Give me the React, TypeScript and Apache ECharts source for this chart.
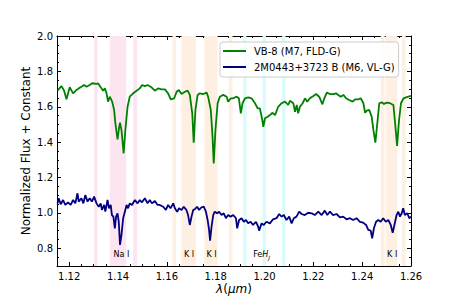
import React, { useEffect, useRef } from "react";
import * as echarts from "echarts";

const X_MIN = 1.115;
const X_MAX = 1.26;
const Y_MIN = 0.7;
const Y_MAX = 2.0;

const vb8Name = "VB-8 (M7, FLD-G)";
const m0443Name = "2M0443+3723 B (M6, VL-G)";

const vb8Wave = [
  1.1152, 1.1168, 1.1179, 1.1189, 1.1202, 1.1216, 1.123, 1.1239, 1.125, 1.1261,
  1.1271, 1.1284, 1.1294, 1.1312, 1.1318, 1.1329, 1.1339, 1.1346, 1.1353, 1.1359,
  1.1366, 1.1376, 1.1384, 1.1389, 1.1398, 1.1404, 1.1408, 1.1414, 1.1423, 1.143,
  1.1439, 1.1448, 1.1462, 1.1476, 1.1489, 1.1499, 1.151, 1.1521, 1.1537, 1.1551,
  1.1564, 1.1578, 1.1592, 1.1605, 1.1616, 1.163, 1.164, 1.1649, 1.166, 1.1674,
  1.1685, 1.1694, 1.1704, 1.171, 1.1717, 1.1726, 1.1735, 1.1749, 1.1763, 1.1769,
  1.178, 1.1787, 1.1792, 1.1799, 1.1808, 1.1817, 1.1831, 1.1845, 1.1851, 1.1862,
  1.1872, 1.1886, 1.1895, 1.1903, 1.191, 1.192, 1.1933, 1.1947, 1.1961, 1.1972,
  1.1981, 1.1991, 1.1995, 1.2002, 1.2013, 1.2022, 1.2033, 1.2043, 1.2056, 1.207,
  1.2084, 1.2097, 1.2104, 1.2118, 1.2125, 1.2132, 1.2138, 1.2145, 1.2156, 1.2166,
  1.2175, 1.2186, 1.22, 1.2211, 1.2224, 1.2237, 1.2245, 1.2255, 1.2268, 1.2282,
  1.2293, 1.2302, 1.2312, 1.2323, 1.2334, 1.2347, 1.2361, 1.2371, 1.2384, 1.2394,
  1.2405, 1.2412, 1.2419, 1.2429, 1.2439, 1.2446, 1.2454, 1.2462, 1.247, 1.248,
  1.2489, 1.2501, 1.2514, 1.2528, 1.2535, 1.2543, 1.2551, 1.2559, 1.2569, 1.258,
  1.2589, 1.26,
];
const vb8Flux = [
  1.691, 1.717, 1.691, 1.642, 1.71, 1.676, 1.695, 1.704, 1.713, 1.723,
  1.713, 1.723, 1.733, 1.729, 1.733, 1.71, 1.691, 1.704, 1.676, 1.629,
  1.657, 1.629, 1.582, 1.507, 1.416, 1.478, 1.51, 1.469, 1.337, 1.469,
  1.6, 1.657, 1.676, 1.691, 1.704, 1.723, 1.717, 1.723, 1.71, 1.691,
  1.704, 1.698, 1.698, 1.676, 1.642, 1.648, 1.685, 1.695, 1.672, 1.685,
  1.691, 1.667, 1.563, 1.397, 1.582, 1.667, 1.676, 1.672, 1.68, 1.657,
  1.582, 1.431, 1.28, 1.469, 1.62, 1.657, 1.667, 1.657, 1.629, 1.648,
  1.648, 1.657, 1.648, 1.563, 1.62, 1.648, 1.653, 1.648, 1.62, 1.591,
  1.591, 1.525, 1.487, 1.535, 1.544, 1.553, 1.566, 1.553, 1.6, 1.62,
  1.629, 1.61, 1.634, 1.62, 1.572, 1.61, 1.563, 1.6, 1.62, 1.648,
  1.629, 1.648, 1.661, 1.672, 1.657, 1.614, 1.648, 1.68, 1.672, 1.672,
  1.676, 1.667, 1.657, 1.667, 1.648, 1.638, 1.629, 1.642, 1.642, 1.648,
  1.62, 1.566, 1.578, 1.582, 1.544, 1.469, 1.397, 1.507, 1.62, 1.625,
  1.616, 1.623, 1.62, 1.61, 1.507, 1.378, 1.525, 1.62, 1.648, 1.653,
  1.657, 1.661,
];

const m0443Wave = [
  1.1152, 1.1157, 1.1165, 1.1175, 1.1184, 1.1195, 1.1206, 1.1216, 1.1225, 1.1234,
  1.1239, 1.125, 1.1258, 1.1266, 1.1275, 1.1284, 1.1293, 1.1302, 1.1312, 1.1321,
  1.1329, 1.1334, 1.1343, 1.1348, 1.1357, 1.1363, 1.137, 1.1375, 1.1381, 1.1387,
  1.1392, 1.1398, 1.1403, 1.1408, 1.1414, 1.1421, 1.1428, 1.1435, 1.1441, 1.1448,
  1.1457, 1.1469, 1.148, 1.1489, 1.1498, 1.151, 1.1521, 1.153, 1.1539, 1.1551,
  1.1562, 1.1571, 1.1585, 1.1596, 1.1605, 1.1615, 1.1626, 1.1633, 1.1642, 1.165,
  1.166, 1.1669, 1.168, 1.1687, 1.1694, 1.1701, 1.1708, 1.1715, 1.1724, 1.1732,
  1.1742, 1.1751, 1.176, 1.1767, 1.1773, 1.1777, 1.1783, 1.179, 1.1796, 1.1806,
  1.1814, 1.1824, 1.1833, 1.1842, 1.1851, 1.1861, 1.1872, 1.1883, 1.1888, 1.1896,
  1.1906, 1.1915, 1.1924, 1.1933, 1.1943, 1.1953, 1.1965, 1.1974, 1.1978, 1.1988,
  1.1997, 1.2008, 1.2022, 1.2035, 1.2049, 1.206, 1.207, 1.2079, 1.209, 1.2101,
  1.2111, 1.212, 1.2131, 1.2142, 1.2152, 1.2165, 1.2179, 1.2193, 1.2206, 1.222,
  1.2234, 1.2247, 1.2257, 1.2268, 1.2281, 1.2295, 1.2309, 1.2322, 1.2336, 1.235,
  1.2363, 1.2377, 1.2391, 1.2404, 1.2416, 1.2425, 1.2435, 1.2441, 1.2448, 1.2457,
  1.2466, 1.2476, 1.2486, 1.2497, 1.2507, 1.2517, 1.2525, 1.2532, 1.2541, 1.2548,
  1.2555, 1.2562, 1.2568, 1.2575, 1.2585, 1.2593, 1.26,
];
const m0443Flux = [
  1.054, 1.083, 1.049, 1.073, 1.045, 1.06, 1.045, 1.073, 1.054, 1.111,
  1.064, 1.083, 1.054, 1.101, 1.064, 1.083, 1.064, 1.092, 1.054, 1.035,
  1.054, 1.017, 1.045, 1.007, 1.073, 1.026, 1.045, 0.988, 0.979, 0.913,
  0.979, 0.998, 0.95, 0.819, 0.875, 0.97, 1.007, 1.045, 1.026, 1.054,
  1.045, 1.073, 1.054, 1.073, 1.06, 1.083, 1.054, 1.073, 1.054, 1.067,
  1.045, 1.045, 1.035, 1.017, 1.045, 1.026, 1.054, 1.026, 1.007, 1.026,
  1.017, 1.035, 1.017, 0.988, 0.932, 0.979, 1.017, 1.021, 1.035, 1.017,
  1.032, 1.035, 1.007, 0.96, 0.904, 0.843, 0.922, 0.988, 1.007, 0.998,
  1.007, 0.988, 0.998, 0.97, 0.988, 0.979, 0.988, 0.97, 0.913, 0.96,
  0.97, 0.95, 0.96, 0.941, 0.95, 0.932, 0.95, 0.922, 0.9, 0.941,
  0.932, 0.95, 0.941, 0.964, 0.97, 0.994, 0.979, 0.988, 0.96, 0.979,
  0.941, 0.97, 0.979, 1.007, 0.994, 0.988, 1.001, 0.998, 0.988, 1.007,
  0.988, 1.013, 0.988, 1.007, 0.988, 0.994, 0.975, 0.979, 0.964, 0.97,
  0.96, 0.97, 0.95, 0.945, 0.932, 0.904, 0.9, 0.857, 0.913, 0.95,
  0.96, 0.95, 0.97, 0.95, 0.96, 0.932, 0.888, 0.932, 0.988, 1.007,
  0.979, 0.998, 1.026, 0.988, 0.998, 0.97, 0.979,
];

const naSpans = [
  [1.1302, 1.1316],
  [1.1366, 1.1433],
  [1.1462, 1.1478],
];
const kSpans = [
  [1.1623, 1.1637],
  [1.166, 1.1719],
  [1.1753, 1.1808],
  [1.1854, 1.1869],
  [1.2476, 1.2492],
  [1.2497, 1.2544],
  [1.2563, 1.2578],
];
const fehSpans = [
  [1.1913, 1.1926],
  [1.1992, 1.2006],
  [1.2072, 1.2086],
];

const lineLabels = ["{t|Na I}", "{t|K I}", "{t|K I}", "{t|Fe}{it|H}{sub|J}", "{t|K I}"];
const lineLabelWave = [1.1414, 1.1691, 1.1783, 1.1988, 1.2523];
const lineLabelFlux = 0.765;

const FONT = "DejaVu Sans";
const GREEN = "#008000";
const NAVY = "#000080";

export default function App() {
  const ref = useRef<HTMLDivElement>(null);

  useEffect(() => {
    if (!ref.current) return;
    const chart = echarts.init(ref.current, undefined, { renderer: "svg" });

    const vb8Data = vb8Wave.map((w, i) => [w, vb8Flux[i]]);
    const m0443Data = m0443Wave.map((w, i) => [w, m0443Flux[i]]);

    const span = (arr: number[][], color: string) =>
      arr.map(([a, b]) => [
        { xAxis: a, itemStyle: { color } },
        { xAxis: b },
      ]);

    const majorX = (pos: "bottom" | "top", labels: boolean) => ({
      type: "value",
      position: pos,
      min: X_MIN,
      max: X_MAX,
      splitNumber: 7,
      axisLine: { show: true, onZero: false, lineStyle: { color: "#000", width: 1 } },
      axisTick: { show: true, inside: true, length: 4, lineStyle: { color: "#000", width: 1 } },
      axisLabel: {
        show: labels,
        color: "#000",
        fontSize: 10,
        fontFamily: FONT,
        margin: 5,
        showMinLabel: false,
        showMaxLabel: true,
        formatter: (v: number) => v.toFixed(2),
      },
      splitLine: { show: false },
      ...(labels
        ? {
            name: "{i|λ}{n|(}{i|μm}{n|)}",
            nameLocation: "middle",
            nameGap: 17,
            nameMoveOverlap: false,
            nameTextStyle: {
              rich: {
                i: { fontSize: 12, fontStyle: "italic", fontFamily: FONT, color: "#000" },
                n: { fontSize: 12, fontFamily: FONT, color: "#000" },
              },
            },
          }
        : {}),
    });
    const minorX = (pos: "bottom" | "top") => ({
      type: "value",
      position: pos,
      min: X_MIN,
      max: X_MAX,
      interval: 0.005,
      axisLine: { show: false, onZero: false },
      axisTick: { show: true, inside: true, length: 2, lineStyle: { color: "#000", width: 1 } },
      axisLabel: { show: false },
      splitLine: { show: false },
    });
    const majorY = (pos: "left" | "right", labels: boolean) => ({
      type: "value",
      position: pos,
      min: Y_MIN,
      max: Y_MAX,
      splitNumber: 6,
      axisLine: { show: true, onZero: false, lineStyle: { color: "#000", width: 1 } },
      axisTick: { show: true, inside: true, length: 4, lineStyle: { color: "#000", width: 1 } },
      axisLabel: {
        show: labels,
        color: "#000",
        fontSize: 10,
        fontFamily: FONT,
        margin: 4,
        showMinLabel: false,
        showMaxLabel: true,
        formatter: (v: number) => v.toFixed(1),
      },
      splitLine: { show: false },
      ...(labels
        ? {
            name: "Normalized Flux + Constant",
            nameLocation: "middle",
            nameGap: 25,
            nameMoveOverlap: false,
            nameTextStyle: { fontSize: 12, fontFamily: FONT, color: "#000" },
          }
        : {}),
    });
    const minorY = (pos: "left" | "right") => ({
      type: "value",
      position: pos,
      min: Y_MIN,
      max: Y_MAX,
      interval: 0.05,
      axisLine: { show: false, onZero: false },
      axisTick: { show: true, inside: true, length: 2, lineStyle: { color: "#000", width: 1 } },
      axisLabel: { show: false },
      splitLine: { show: false },
    });

    chart.setOption({
      animation: false,
      backgroundColor: "#fff",
      textStyle: { fontFamily: FONT },
      grid: { left: 57, right: 46, top: 36, bottom: 39, containLabel: false },
      xAxis: [majorX("bottom", true), minorX("bottom"), majorX("top", false), minorX("top")],
      yAxis: [majorY("left", true), minorY("left"), majorY("right", false), minorY("right")],
      legend: {
        orient: "vertical",
        left: 220,
        top: 42,
        padding: [3, 4, 4, 3],
        itemGap: 4,
        itemWidth: 23,
        itemHeight: 2,
        icon: "rect",
        backgroundColor: "rgba(255,255,255,0.8)",
        borderColor: "#cccccc",
        borderWidth: 1,
        borderRadius: 3,
        textStyle: { fontSize: 10, fontFamily: FONT, color: "#000", lineHeight: 12, padding: [0, 0, 0, 3] },
        data: [vb8Name, m0443Name],
      },
      series: [
        {
          type: "line",
          name: vb8Name,
          data: vb8Data,
          symbol: "none",
          showSymbol: false,
          lineStyle: { color: GREEN, width: 1.8 },
          itemStyle: { color: GREEN },
          z: 3,
          markArea: {
            silent: true,
            data: [
              ...span(naSpans, "#fde4f1"),
              ...span(kSpans, "#fdf0e3"),
              ...span(fehSpans, "#d9fbfb"),
            ],
          },
        },
        {
          type: "line",
          name: m0443Name,
          data: m0443Data,
          symbol: "none",
          showSymbol: false,
          lineStyle: { color: NAVY, width: 1.8 },
          itemStyle: { color: NAVY },
          z: 4,
          markPoint: {
            silent: true,
            symbol: "circle",
            symbolSize: 0,
            data: lineLabels.map((t, i) => ({
              coord: [lineLabelWave[i], lineLabelFlux],
              label: {
                show: true,
                position: "inside",
                formatter: t,
                rich: {
                  t: { fontSize: 8, fontFamily: FONT, color: "#000" },
                  it: { fontSize: 8, fontFamily: FONT, fontStyle: "italic", color: "#000" },
                  sub: { fontSize: 6, fontFamily: FONT, fontStyle: "italic", color: "#000", padding: [5, 0, 0, 0] },
                },
              },
            })),
          },
        },
      ],
    });

    return () => chart.dispose();
  }, []);

  return (
    <div
      ref={ref}
      style={{ position: "fixed", left: 0, top: 0, width: 457, height: 305, background: "#fff" }}
    />
  );
}
